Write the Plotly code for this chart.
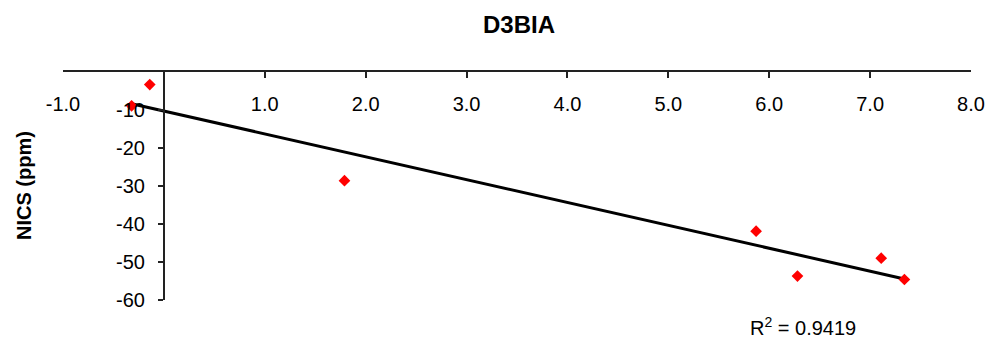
import numpy as np
import plotly.graph_objects as go

# Data
x_vals = [-0.32, -0.14, 1.79, 5.87, 6.28, 7.11, 7.34]
y_vals = [-8.9, -3.3, -28.6, -41.9, -53.7, -49.0, -54.6]

# (the 0 ticks coincide with the crossing axis lines and carry no label)
x_tickvals = [-1, 1, 2, 3, 4, 5, 6, 7, 8]
x_ticktext = ["-1.0", "1.0", "2.0", "3.0", "4.0", "5.0", "6.0", "7.0", "8.0"]
y_tickvals = [-10, -20, -30, -40, -50, -60]
y_ticktext = ["-10", "-20", "-30", "-40", "-50", "-60"]

title_text = "D3BIA"
y_title = "NICS (ppm)"
r2_text = "R<sup>2</sup> = 0.9419"

FONT = "Liberation Sans, Arial, Helvetica, sans-serif"

W, H = 985, 339
L, T, R, B = 63, 72, 14, 39
PW, PH = W - L - R, H - T - B  # 908 x 228


def px_x(px):
    return (px - L) / PW


def px_y(py):
    return (H - B - py) / PH


# Linear trendline (least squares), drawn between min and max x
slope, intercept = np.polyfit(x_vals, y_vals, 1)
tx = [min(x_vals), max(x_vals)]
ty = [slope * v + intercept for v in tx]

fig = go.Figure()
fig.add_trace(go.Scatter(
    x=tx, y=ty, mode="lines",
    line=dict(color="black", width=3),
    showlegend=False, hoverinfo="skip",
))
fig.add_trace(go.Scatter(
    x=x_vals, y=y_vals, mode="markers",
    marker=dict(symbol="diamond", size=9, color="#ff0000", line=dict(width=0)),
    showlegend=False,
))

fig.update_layout(
    width=W, height=H,
    margin=dict(l=L, r=R, t=T, b=B, autoexpand=False),
    paper_bgcolor="white", plot_bgcolor="white",
    font=dict(family=FONT, size=20, color="black"),
    xaxis=dict(
        range=[-1, 8], domain=[0, 1], side="top",
        tickvals=x_tickvals, ticktext=x_ticktext,
        ticks="inside", ticklen=6, tickcolor="#222", tickwidth=1.5,
        ticklabelposition="inside", ticklabelstandoff=20,
        ticklabeloverflow="allow",
        showline=True, linecolor="#222", linewidth=2,
        showgrid=False, zeroline=False,
        tickfont=dict(size=20, family=FONT, color="black"),
    ),
    yaxis=dict(
        range=[-60, 0], anchor="free", position=1/9,
        tickvals=y_tickvals, ticktext=y_ticktext,
        ticks="outside", ticklen=5, tickcolor="#222", tickwidth=1.5,
        ticklabelstandoff=9,
        showline=True, linecolor="#222", linewidth=2,
        showgrid=False, zeroline=False,
        tickfont=dict(size=20, family=FONT, color="black"),
    ),
    annotations=[
        dict(text="<b>" + title_text + "</b>", xref="paper", yref="paper",
             x=px_x(519), y=px_y(25), xanchor="center", yanchor="middle",
             showarrow=False, font=dict(size=24, family=FONT)),
        dict(text="<b>" + y_title + "</b>", xref="paper", yref="paper",
             x=px_x(24), y=px_y(186), textangle=-90,
             xanchor="center", yanchor="middle", showarrow=False,
             font=dict(size=20, family=FONT)),
        dict(text=r2_text, xref="paper", yref="paper",
             x=px_x(803), y=px_y(326),
             xanchor="center", yanchor="middle", showarrow=False,
             font=dict(size=20, family=FONT)),
    ],
)

fig.write_html(
    "out.html",
    config={"displayModeBar": False},
    post_script="document.body.style.margin='0';document.body.style.overflow='hidden';",
)
